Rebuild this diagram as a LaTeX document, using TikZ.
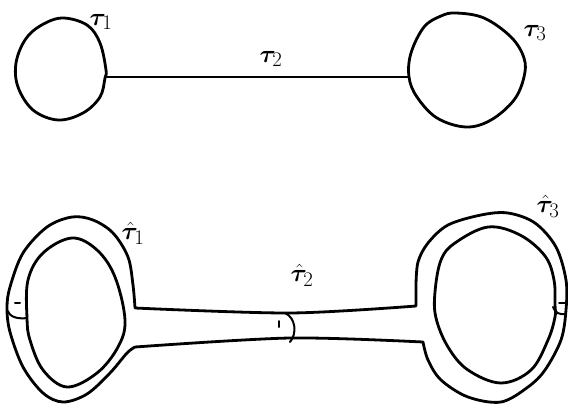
\documentclass[tikz,border=0pt]{standalone}
\usepackage{amsmath}
\usepackage{bm}
\begin{document}
\begin{tikzpicture}[x=1pt,y=-1pt,
  curve/.style={line width=2.8pt,line join=round,line cap=round},
  thinline/.style={line width=1.8pt},
  twist/.style={line width=2pt,line cap=round},
  lbl/.style={inner sep=0pt,font=\Huge}]
\useasboundingbox (0,0) rectangle (568,408);
% ---------- top graph ----------
\coordinate (j1) at (106,77);
\coordinate (j3) at (409,77);
\draw[curve] plot[smooth cycle,tension=0.6] coordinates {(62,18) (87,25) (100,43) (106,70) (105,78) (100,97) (83,113) (58,120) (33,110) (18,87) (16,63) (25,40) (40,26)};
\draw[curve] plot[smooth cycle,tension=0.6] coordinates {(409,77) (411,53) (424,27) (441,16) (456,13) (484,18) (511,37) (524,58) (524,77) (514,100) (491,120) (466,127) (437,118) (417,97)};
\draw[thinline] (j1) -- (j3);
\node[lbl] (t1) at (101,22) {$\bm{\tau}_1$};
\node[lbl] (t2) at (271,59) {$\bm{\tau}_2$};
\node[lbl] (t3) at (535,33) {$\bm{\tau}_3$};
% ---------- bottom ribbon graph ----------
\draw[curve] plot[smooth,tension=0.55] coordinates {(135,347) (127,353) (110,373) (87,394) (63,402) (43,393) (23,367) (10,332) (7,308) (10,287) (23,253) (47,227) (72,217) (93,220) (113,233) (128,257) (133,285) (135,308)}
  -- plot[smooth,tension=0.5] coordinates {(135,308) (290,313) (416,306)}
  -- (416,285)
  -- plot[smooth,tension=0.55] coordinates {(416,285) (418,262) (428,243) (448,225) (481,215) (508,213) (535,223) (556,247) (566,280) (566,310) (561,340) (545,370) (528,387) (501,402) (468,397) (441,380) (428,360) (423,342)}
  -- plot[smooth,tension=0.5] coordinates {(423,342) (290,338) (135,347)};
\draw[curve] plot[smooth cycle,tension=0.6] coordinates {(72,238) (97,250) (115,277) (125,320) (118,347) (97,373) (67,387) (43,370) (30,340) (27,318) (28,280) (43,253)};
\draw[curve] plot[smooth cycle,tension=0.6] coordinates {(435,292) (441,260) (455,243) (488,227) (520,235) (545,256) (554,280) (555,305) (555,317) (548,340) (531,370) (501,383) (468,370) (448,347) (436,318)};
% twist markers
\coordinate (lt1) at (8,311);
\coordinate (lt2) at (27,318);
\draw[twist] (lt1) .. controls (10,318) and (20,319) .. (lt2);
\draw[twist] (15,303) -- (20,303);
\coordinate (mt1) at (285,313);
\coordinate (mt2) at (290,342);
\draw[twist] (mt1) .. controls (296,318) and (297,334) .. (mt2);
\draw[twist] (279,321) -- (279,327);
\coordinate (rt1) at (553,307);
\coordinate (rt2) at (566,314);
\draw[twist] (rt1) .. controls (555,313) and (560,315) .. (rt2);
\draw[twist] (559,303) -- (565,303);
\node[lbl] (h1) at (133,233) {$\hat{\bm{\tau}}_1$};
\node[lbl] (h2) at (302,275) {$\hat{\bm{\tau}}_2$};
\node[lbl] (h3) at (548,206) {$\hat{\bm{\tau}}_3$};
\end{tikzpicture}
\end{document}
